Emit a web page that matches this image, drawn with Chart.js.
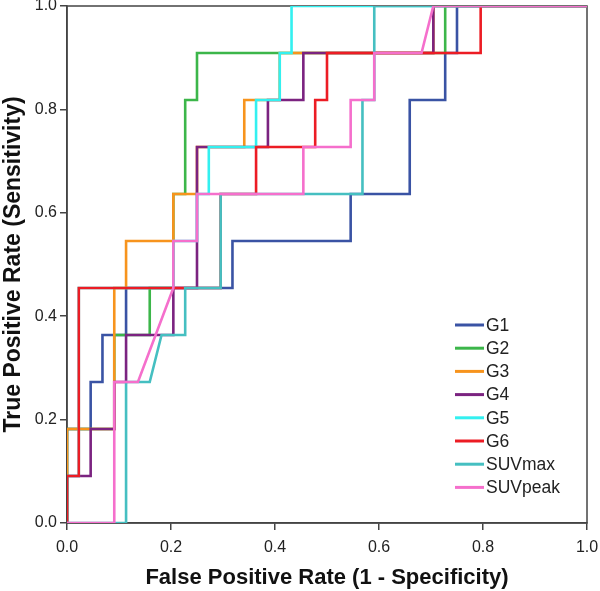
<!DOCTYPE html>
<html>
<head>
<meta charset="utf-8">
<script src="https://cdn.jsdelivr.net/npm/chart.js@4.4.1/dist/chart.umd.min.js"></script>
<style>
  html, body { margin: 0; padding: 0; background: #fff; }
  #wrap { width: 600px; height: 591px; }
</style>
</head>
<body>
<div id="wrap"><canvas id="roc" width="600" height="591"></canvas></div>
<script>
// ROC curves (x = 1 - specificity, y = sensitivity)
var seriesNames = ['G1', 'G2', 'G3', 'G4', 'G5', 'G6', 'SUVmax', 'SUVpeak'];
var seriesColors = ['#3a53a4', '#3cb64a', '#f7941d', '#7b2380', '#33f0f0', '#ec1c24', '#45bfc1', '#f56fcc'];

var g1Fpr = [0, 0, 0.0455, 0.0455, 0.0682, 0.0682, 0.1136, 0.1136, 0.3182, 0.3182, 0.5455, 0.5455, 0.6591, 0.6591, 0.7273, 0.7273, 0.75, 0.75, 1];
var g1Tpr = [0, 0.1818, 0.1818, 0.2727, 0.2727, 0.3636, 0.3636, 0.4545, 0.4545, 0.5455, 0.5455, 0.6364, 0.6364, 0.8182, 0.8182, 0.9091, 0.9091, 1, 1];

var g2Fpr = [0, 0, 0.0909, 0.0909, 0.1591, 0.1591, 0.2045, 0.2045, 0.2273, 0.2273, 0.25, 0.25, 0.7273, 0.7273, 1];
var g2Tpr = [0, 0.1818, 0.1818, 0.3636, 0.3636, 0.4545, 0.4545, 0.6364, 0.6364, 0.8182, 0.8182, 0.9091, 0.9091, 1, 1];

var g3Fpr = [0, 0, 0.0909, 0.0909, 0.1136, 0.1136, 0.2045, 0.2045, 0.25, 0.25, 0.3409, 0.3409, 0.4091, 0.4091, 0.7045, 0.7045, 1];
var g3Tpr = [0, 0.1818, 0.1818, 0.4545, 0.4545, 0.5455, 0.5455, 0.6364, 0.6364, 0.7273, 0.7273, 0.8182, 0.8182, 0.9091, 0.9091, 1, 1];

var g4Fpr = [0, 0, 0.0455, 0.0455, 0.0909, 0.0909, 0.1136, 0.1136, 0.2045, 0.2045, 0.25, 0.25, 0.3864, 0.3864, 0.4545, 0.4545, 0.7045, 0.7045, 1];
var g4Tpr = [0, 0.0909, 0.0909, 0.1818, 0.1818, 0.2727, 0.2727, 0.3636, 0.3636, 0.4545, 0.4545, 0.7273, 0.7273, 0.8182, 0.8182, 0.9091, 0.9091, 1, 1];

var g5Fpr = [0, 0, 0.0227, 0.0227, 0.2045, 0.2045, 0.25, 0.25, 0.2727, 0.2727, 0.3636, 0.3636, 0.4091, 0.4091, 0.4318, 0.4318, 1];
var g5Tpr = [0, 0.0909, 0.0909, 0.4545, 0.4545, 0.5455, 0.5455, 0.6364, 0.6364, 0.7273, 0.7273, 0.8182, 0.8182, 0.9091, 0.9091, 1, 1];

var g6Fpr = [0, 0, 0.0227, 0.0227, 0.2955, 0.2955, 0.3636, 0.3636, 0.4773, 0.4773, 0.5, 0.5, 0.7955, 0.7955, 1];
var g6Tpr = [0, 0.0909, 0.0909, 0.4545, 0.4545, 0.6364, 0.6364, 0.7273, 0.7273, 0.8182, 0.8182, 0.9091, 0.9091, 1, 1];

var suvMaxFpr = [0, 0.1136, 0.1136, 0.1591, 0.1818, 0.2273, 0.2273, 0.2955, 0.2955, 0.5682, 0.5682, 0.5909, 0.5909, 1];
var suvMaxTpr = [0, 0, 0.2727, 0.2727, 0.3636, 0.3636, 0.4545, 0.4545, 0.6364, 0.6364, 0.8182, 0.8182, 1, 1];

var suvPeakFpr = [0, 0.0909, 0.0909, 0.1364, 0.2045, 0.2045, 0.25, 0.25, 0.4545, 0.4545, 0.5455, 0.5455, 0.5909, 0.5909, 0.6818, 0.7045, 1];
var suvPeakTpr = [0, 0, 0.2727, 0.2727, 0.4545, 0.5455, 0.5455, 0.6364, 0.6364, 0.7273, 0.7273, 0.8182, 0.8182, 0.9091, 0.9091, 1, 1];

var axisTicks = [0, 0.2, 0.4, 0.6, 0.8, 1.0];

var curves = [
  [g1Fpr, g1Tpr], [g2Fpr, g2Tpr], [g3Fpr, g3Tpr], [g4Fpr, g4Tpr],
  [g5Fpr, g5Tpr], [g6Fpr, g6Tpr], [suvMaxFpr, suvMaxTpr], [suvPeakFpr, suvPeakTpr]
];

function toPoints(xs, ys) {
  return xs.map(function (x, i) { return { x: x, y: ys[i] }; });
}

var datasets = curves.map(function (c, i) {
  return {
    label: seriesNames[i],
    data: toPoints(c[0], c[1]),
    borderColor: seriesColors[i],
    backgroundColor: seriesColors[i],
    borderWidth: 2.6,
    pointRadius: 0,
    showLine: true,
    fill: false,
    tension: 0,
    // later series are painted on top, like the source figure
    order: seriesNames.length - i
  };
});

// plot frame (top and right sides too)
var framePlugin = {
  id: 'frame',
  beforeDatasetsDraw: function (chart) {
    var a = chart.chartArea, ctx = chart.ctx;
    ctx.save();
    ctx.strokeStyle = '#444';
    ctx.lineWidth = 1.5;
    ctx.strokeRect(a.left, a.top, a.right - a.left, a.bottom - a.top);
    ctx.restore();
  }
};

// legend inside the plot, lower right
var legendPlugin = {
  id: 'insideLegend',
  afterDatasetsDraw: function (chart) {
    var ctx = chart.ctx;
    ctx.save();
    ctx.font = '17.5px "Liberation Sans", Arial, sans-serif';
    ctx.textBaseline = 'middle';
    ctx.textAlign = 'left';
    seriesNames.forEach(function (name, i) {
      var y = 325 + i * 23.2;
      ctx.strokeStyle = seriesColors[i];
      ctx.lineWidth = 3;
      ctx.beginPath();
      ctx.moveTo(455, y);
      ctx.lineTo(484, y);
      ctx.stroke();
      ctx.fillStyle = '#222';
      ctx.fillText(name, 486, y + 1);
    });
    ctx.restore();
  }
};

function axis(titleText, isY) {
  return {
    type: 'linear',
    min: 0,
    max: 1,
    afterBuildTicks: function (scale) {
      scale.ticks = axisTicks.map(function (v) { return { value: v }; });
    },
    afterFit: function (scale) {
      // fixed box sizes; let end labels hang over the edges
      if (isY) {
        scale.width = 67;
        scale.paddingTop = 0;
        scale.paddingBottom = 0;
      } else {
        scale.height = 68;
        scale.paddingLeft = 0;
        scale.paddingRight = 0;
      }
    },
    grid: { display: true, drawOnChartArea: false, drawTicks: true, tickLength: 7, color: '#444', lineWidth: 1.5 },
    border: { display: true, color: '#444', width: 1.5 },
    ticks: {
      color: '#222',
      padding: isY ? 3 : 8,
      font: { family: '"Liberation Sans", Arial, sans-serif', size: 16 },
      callback: function (v) { return Number(v).toFixed(1); }
    },
    title: {
      display: true,
      text: titleText,
      color: '#111',
      font: { family: '"Liberation Sans", Arial, sans-serif', size: isY ? 23 : 22, weight: 'bold' },
      padding: 0
    }
  };
}

new Chart(document.getElementById('roc'), {
  type: 'scatter',
  data: { datasets: datasets },
  options: {
    responsive: false,
    animation: false,
    layout: { padding: { top: 6, right: 13, left: 0, bottom: 0 } },
    plugins: { legend: { display: false }, tooltip: { enabled: false } },
    scales: {
      x: axis('False Positive Rate (1 - Specificity)', false),
      y: axis('True Positive Rate (Sensitivity)', true)
    }
  },
  plugins: [framePlugin, legendPlugin]
});
</script>
</body>
</html>
